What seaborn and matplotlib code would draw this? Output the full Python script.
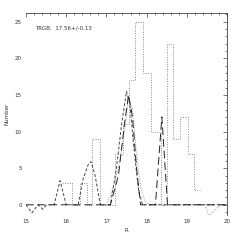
import numpy as np
import pandas as pd
import matplotlib
matplotlib.use("Agg")
import matplotlib.pyplot as plt
from matplotlib.ticker import MultipleLocator
import seaborn as sns

# dotted histogram of R magnitudes
hist_edges = [15.90, 16.15, 16.35, 16.52, 16.65, 16.85, 17.22, 17.42, 17.57, 17.72,
              17.92, 18.10, 18.35, 18.50, 18.65, 18.82, 19.02, 19.17, 19.32]
hist_counts = [3, 0, 3, 0, 9, 0, 7, 11, 17, 25, 18, 10, 0, 22, 9, 12, 7, 2]

# short dashed fit
short_r = [15.0, 15.15, 15.3, 15.42, 15.52, 15.7, 15.85, 16.0, 16.3, 16.42, 16.55,
           16.62, 16.72, 16.85, 17.1, 17.25, 17.38, 17.5, 17.58, 17.68, 17.8, 17.9, 20.0]
short_n = [0, -1.1, 0, -0.6, 0, 0, 3.3, 0, 0, 3.5, 5.5,
           5.9, 4.0, 0, 0, 5, 11, 15.5, 14, 8, 2, 0, 0]

# long dashed fit
long_r = [15.0, 17.1, 17.3, 17.45, 17.55, 17.65, 17.75, 17.85, 18.22, 18.38, 18.52, 20.0]
long_n = [0, 0, 4, 11, 15, 12, 5, 0, 0, 12, 0, 0]

# dotted smooth curve
dot_r = [17.0, 17.15, 17.3, 17.45, 17.55, 17.65, 17.75, 17.85, 17.95, 18.05, 18.3,
         19.45, 19.55, 19.6, 19.85]
dot_n = [0, 2, 5, 10, 14.5, 13, 7, 2.5, 0.6, 0, 0,
         0, -1.6, -1.2, 0]

sns.set_style("white")
plt.rcParams["font.family"] = ["DejaVu Sans"]

fig = plt.figure(figsize=(2.4, 2.4), dpi=100)
ax = fig.add_axes([0.108, 0.104, 0.838, 0.842])

ax.stairs(hist_counts, hist_edges, baseline=None, color="#8a8a8a", lw=0.7,
          ls=(0, (1, 1.5)))
sns.lineplot(x=dot_r, y=dot_n, ax=ax, sort=False, estimator=None,
             color="#999999", lw=0.7, ls=(0, (1, 1.5)))
sns.lineplot(x=short_r, y=short_n, ax=ax, sort=False, estimator=None,
             color="#444444", lw=0.7, ls=(0, (3, 2)))
sns.lineplot(x=long_r, y=long_n, ax=ax, sort=False, estimator=None,
             color="#222222", lw=0.7, ls=(0, (8, 4)))

ax.set_xlim(15, 20)
ax.set_ylim(-1.4, 26.2)
ax.xaxis.set_major_locator(MultipleLocator(1))
ax.xaxis.set_minor_locator(MultipleLocator(0.2))
ax.yaxis.set_major_locator(MultipleLocator(5))
ax.yaxis.set_minor_locator(MultipleLocator(1))
ax.tick_params(which="both", direction="in", top=True, right=True,
               width=0.5, color="#444444", labelsize=4, labelcolor="#333333", pad=3)
ax.tick_params(which="major", length=3)
ax.tick_params(which="minor", length=1.5)

for s in ["left", "bottom"]:
    ax.spines[s].set_visible(False)
for s in ["top", "right"]:
    ax.spines[s].set_linewidth(0.6)
    ax.spines[s].set_color("#444444")

ax.set_xlabel("R", fontsize=4, labelpad=3, color="#333333")
ax.set_ylabel("Number", fontsize=4, labelpad=4, color="#333333")
ax.text(15.22, 24.2, "TRGB:  17.56+/-0.13", fontsize=4, va="center", color="#333333")

fig.savefig("out.png", dpi=100)
